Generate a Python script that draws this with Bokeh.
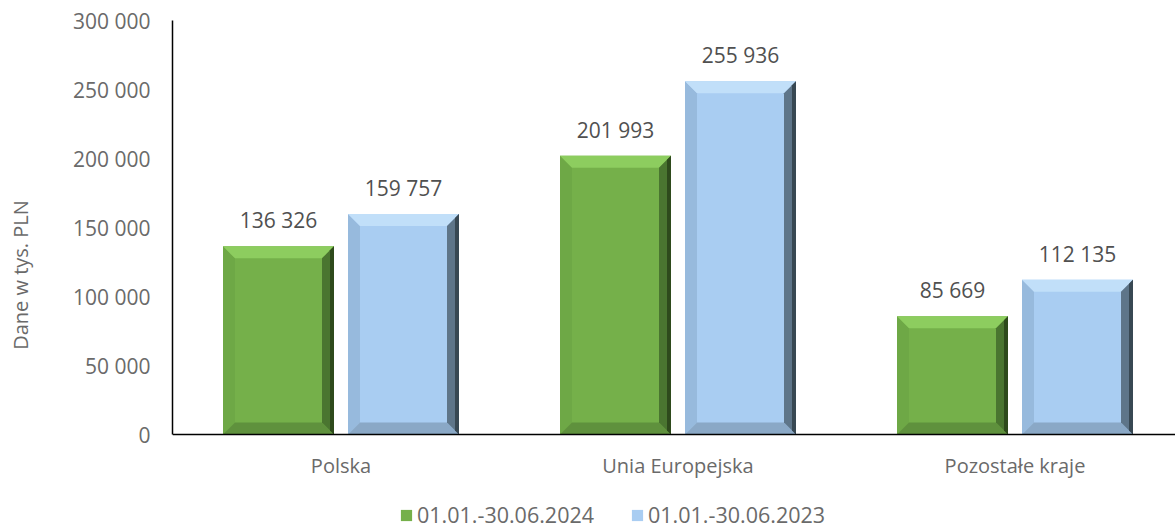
from bokeh.plotting import figure
from bokeh.models import ColumnDataSource, Legend, LegendItem, FixedTicker, Range1d, Span
from bokeh.core.properties import value
from bokeh.embed import file_html
from bokeh.resources import INLINE

categories = ["Polska", "Unia Europejska", "Pozostałe kraje"]
series_names = ["01.01.-30.06.2024", "01.01.-30.06.2023"]
values_2024 = [136326, 201993, 85669]
values_2023 = [159757, 255936, 112135]
y_ticks = [0, 50000, 100000, 150000, 200000, 250000, 300000]

FONT = "Open Sans"
W, H = 1175, 529
ML, MT = 172, 20
PX_PER_CAT = 337.0
PLOT_H = 414.0          # pixels from 0 to the top tick
BELOW = 95.0            # pixels under the zero line (labels + legend)
frame_w = W - ML
y_max = 300000
y_min = -BELOW * y_max / PLOT_H
x_end = -0.5 + frame_w / PX_PER_CAT

TXT = "#6a6a6a"

p = figure(width=W, height=H, output_backend="svg", toolbar_location=None,
           x_range=Range1d(-0.5, x_end), y_range=Range1d(y_min, y_max),
           min_border_left=ML, min_border_right=0, min_border_top=MT, min_border_bottom=0)
p.outline_line_color = None
p.grid.visible = False
p.xaxis.visible = False
p.background_fill_color = "white"
p.border_fill_color = "white"

def fmt(v):
    return f"{v:,}".replace(",", " ")

bw = 111 / PX_PER_CAT
off = 62.5 / PX_PER_CAT
bpx = 12
bx = bpx / PX_PER_CAT
by = bpx * y_max / PLOT_H
ex = 4 / PX_PER_CAT

styles = [
    dict(face="#75b04a", top="#8dcd5f", right="#4a7530", rdark="#2e4a1c", bottom="#5f913d", left="#6ea846",
         vals=values_2024, dx=-off),
    dict(face="#a9cdf2", top="#c1dff9", right="#5e7589", rdark="#384853", bottom="#8aa8c6", left="#97badd",
         vals=values_2023, dx=off),
]

legend_items = []
for name, st in zip(series_names, styles):
    xs = [i + st["dx"] for i in range(len(categories))]
    l = [x - bw / 2 for x in xs]
    r = [x + bw / 2 for x in xs]
    t = st["vals"]
    src = ColumnDataSource(dict(left=l, right=r, top=t, bottom=[0] * len(t), x=xs,
                                label=[fmt(v) for v in t]))
    main = p.quad(left="left", right="right", top="top", bottom="bottom", source=src,
                  fill_color=st["face"], line_color=None)
    top_x, top_y, rt_x, rt_y, bt_x, bt_y, lf_x, lf_y, rd_x, rd_y = ([] for _ in range(10))
    for li, ri, ti in zip(l, r, t):
        top_x.append([li, ri, ri - bx, li + bx]); top_y.append([ti, ti, ti - by, ti - by])
        rt_x.append([ri, ri, ri - bx, ri - bx]); rt_y.append([ti, 0, by, ti - by])
        rd_x.append([ri, ri, ri - ex, ri - ex]); rd_y.append([ti, 0, by * ex / bx, ti - by * ex / bx])
        bt_x.append([li, ri, ri - bx, li + bx]); bt_y.append([0, 0, by, by])
        lf_x.append([li, li + bx, li + bx, li]); lf_y.append([ti, ti - by, by, 0])
    p.patches(lf_x, lf_y, fill_color=st["left"], line_color=None)
    p.patches(bt_x, bt_y, fill_color=st["bottom"], line_color=None)
    p.patches(top_x, top_y, fill_color=st["top"], line_color=None)
    p.patches(rt_x, rt_y, fill_color=st["right"], line_color=None)
    p.patches(rd_x, rd_y, fill_color=st["rdark"], line_color=None)
    p.text(x="x", y="top", text="label", source=src, text_align="center",
           text_baseline="middle", y_offset=-26, text_font=value(FONT),
           text_font_size="21px", text_color="#505050")
    legend_items.append(LegendItem(label=name, renderers=[main]))

# category axis (drawn as zero line + labels)
p.add_layout(Span(location=0, dimension="width", line_color="black", line_width=1.5))
cat_src = ColumnDataSource(dict(x=list(range(len(categories))), y=[0] * len(categories), t=categories))
p.text(x="x", y="y", text="t", source=cat_src, text_align="center", text_baseline="middle",
       y_offset=31, text_font=value(FONT), text_font_size="20px", text_color=TXT)

# value axis
ya = p.yaxis[0]
ya.bounds = (0, y_max)
ya.ticker = FixedTicker(ticks=y_ticks)
ya.major_label_overrides = {v: fmt(v) for v in y_ticks}
ya.axis_line_color = "black"
ya.axis_line_width = 1.5
ya.major_tick_line_color = None
ya.minor_tick_line_color = None
ya.major_tick_in = 0
ya.major_tick_out = 0
ya.major_label_text_font = FONT
ya.major_label_text_font_size = "21px"
ya.major_label_text_color = TXT
ya.major_label_standoff = 22
ya.axis_label = "Dane w tys. PLN"
ya.axis_label_text_font = FONT
ya.axis_label_text_font_size = "20px"
ya.axis_label_text_font_style = "normal"
ya.axis_label_text_color = TXT
ya.axis_label_standoff = 36

legend = Legend(items=legend_items, orientation="horizontal", location=(227, 0),
                label_text_font=FONT, label_text_font_size="21.5px", label_text_color=TXT,
                glyph_width=14, glyph_height=14, label_standoff=4, spacing=36,
                border_line_color=None, background_fill_alpha=0, padding=0, margin=0)
p.add_layout(legend, "center")

open("out.html", "w").write(file_html(p, INLINE))
